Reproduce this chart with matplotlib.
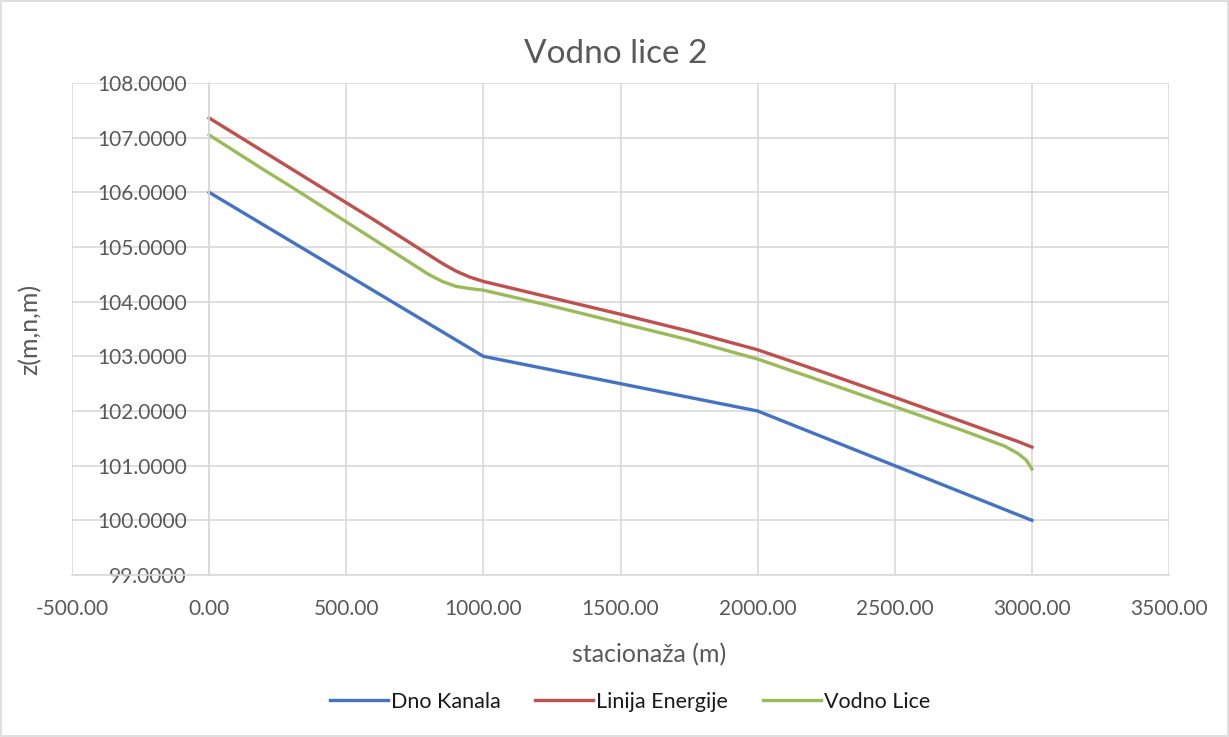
import matplotlib
matplotlib.use("Agg")
import matplotlib.pyplot as plt
from matplotlib.patches import Rectangle

# stationing (m)
stanice = [0, 100, 200, 300, 400, 500, 600, 700, 800, 850, 900, 950, 1000,
           1250, 1500, 1750, 2000, 2250, 2500, 2750, 2900, 2950, 2980, 3000]

dno_kanala = [106.0, 105.7, 105.4, 105.1, 104.8, 104.5, 104.2, 103.9, 103.6, 103.45, 103.3, 103.15, 103.0,
              102.75, 102.5, 102.25, 102.0, 101.5, 101.0, 100.5, 100.2, 100.1, 100.04, 100.0]

linija_energije = [107.36, 107.05, 106.74, 106.43, 106.12, 105.81, 105.50, 105.18, 104.86, 104.70, 104.56, 104.45, 104.37,
                   104.07, 103.77, 103.46, 103.12, 102.69, 102.25, 101.80, 101.53, 101.44, 101.38, 101.34]

vodno_lice = [107.05, 106.73, 106.41, 106.10, 105.78, 105.46, 105.14, 104.82, 104.50, 104.37, 104.28, 104.24, 104.21,
              103.92, 103.61, 103.30, 102.95, 102.52, 102.08, 101.64, 101.36, 101.22, 101.10, 100.94]

plt.rcParams['font.family'] = ['Lato', 'DejaVu Sans']
txt = '#595959'
grid = '#d9d9d9'

fig = plt.figure(figsize=(12.29, 7.37), dpi=100)
ax = fig.add_axes([72 / 1229, 1 - 575 / 737, (1169 - 72) / 1229, (575 - 83) / 737])

ax.plot(stanice, dno_kanala, color='#4472C4', lw=2.4, label='Dno Kanala')
ax.plot(stanice, linija_energije, color='#C0504D', lw=2.4, label='Linija Energije')
ax.plot(stanice, vodno_lice, color='#9BBB59', lw=2.4, label='Vodno Lice')

ax.set_xlim(-500, 3500)
ax.set_ylim(99, 108)
ax.set_xticks(range(-500, 3501, 500))
ax.set_xticklabels([f"{v:.2f}" for v in range(-500, 3501, 500)])
ax.set_yticks(range(99, 109))
ax.set_yticklabels([f"{v:.4f}" for v in range(99, 109)])
ax.grid(True, color=grid, lw=1.2)
ax.set_axisbelow(True)

for s in ['top', 'right']:
    ax.spines[s].set_visible(False)
ax.spines['left'].set_position(('data', 0))
ax.spines['left'].set_color(grid)
ax.spines['left'].set_linewidth(1.2)
ax.spines['bottom'].set_color(grid)
ax.spines['bottom'].set_linewidth(1.2)
ax.tick_params(length=0, labelsize=15, labelcolor=txt)
ax.tick_params(axis='x', pad=17)
ax.tick_params(axis='y', pad=16)

fig.text(616 / 1229, 1 - 54 / 737, 'Vodno lice 2', fontsize=24, color=txt, ha='center', va='center')
fig.text(649 / 1229, 1 - 655 / 737, 'stacionaža (m)', fontsize=18, color=txt, ha='center', va='center')
fig.text(30 / 1229, 1 - 329 / 737, 'z(m,n,m)', rotation=90, fontsize=18, color=txt,
         ha='center', va='center')

fig.legend(loc='center', bbox_to_anchor=(630 / 1229, 1 - 702 / 737), ncol=3, frameon=False,
           fontsize=15.5, labelcolor='#1a1a1a', handlelength=2.7, columnspacing=1.6, handletextpad=0.15)

fig.patches.append(Rectangle((0.001, 0.001), 0.998, 0.997, transform=fig.transFigure,
                             fill=False, edgecolor=grid, lw=1.2))

fig.savefig('out.png', dpi=100)
